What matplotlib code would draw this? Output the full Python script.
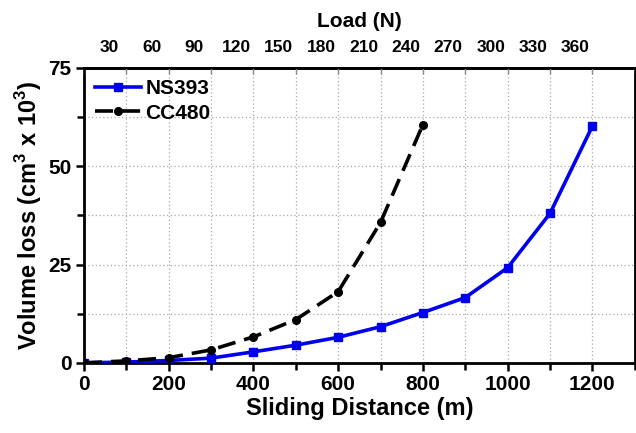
import matplotlib
matplotlib.use("Agg")
import matplotlib.pyplot as plt
from matplotlib.ticker import MultipleLocator

plt.rcParams['font.family'] = ['Liberation Sans', 'DejaVu Sans']
plt.rcParams['font.weight'] = 'bold'
plt.rcParams['mathtext.fontset'] = 'custom'
plt.rcParams['mathtext.bf'] = 'Liberation Sans:bold'

# sliding distance (m)
distance = [0, 100, 200, 300, 400, 500, 600, 700, 800, 900, 1000, 1100, 1200]
ns393 = [0, 0.2, 0.6, 1.2, 2.8, 4.5, 6.5, 9.2, 12.8, 16.6, 24.2, 38.0, 60.2]

distance_cc = [0, 100, 200, 300, 400, 500, 600, 700, 800]
cc480 = [0, 0.5, 1.3, 3.3, 6.6, 11.0, 18.1, 35.7, 60.6]

# top axis load labels (N)
loads = [30, 60, 90, 120, 150, 180, 210, 240, 270, 300, 330, 360]

fig = plt.figure(figsize=(6.36, 4.33), dpi=100)
ax = fig.add_axes([0.132, 0.162, 0.866, 0.681])

ax.plot(distance, ns393, color='#0000ee', lw=2.6, marker='s', ms=5.5,
        label='NS393', zorder=3)
ax.plot(distance_cc, cc480, color='black', lw=2.6, ls=(0, (5, 2.5)),
        marker='o', ms=5.5, label='CC480', zorder=4)

ax.set_xlim(0, 1300)
ax.set_ylim(0, 75)
ax.xaxis.set_major_locator(MultipleLocator(200))
ax.xaxis.set_minor_locator(MultipleLocator(100))
ax.yaxis.set_major_locator(MultipleLocator(25))
ax.yaxis.set_minor_locator(MultipleLocator(12.5))
ax.grid(True, which='both', color='#aaaaaa', ls=(0, (1, 2)), lw=0.9)
ax.set_axisbelow(True)

ax.tick_params(axis='both', which='both', direction='out', width=1.8,
               labelsize=15, top=False, pad=3)
ax.tick_params(which='major', length=6)
ax.tick_params(which='minor', length=5)
for s in ax.spines.values():
    s.set_linewidth(2)

ax.set_xlabel('Sliding Distance (m)', fontsize=17, fontweight='bold', labelpad=2)
ax.set_ylabel('Volume loss (cm$^{\\mathbf{3}}$ x 10$^{\\mathbf{3}}$)', fontsize=17,
              fontweight='bold', labelpad=3)

# top axis: load, labels placed along the distance scale
top = ax.secondary_xaxis('top', functions=(lambda d: (d + 40) * 0.3,
                                            lambda l: l / 0.3 - 40))
top.set_xticks(loads)
top.tick_params(length=0, labelsize=12.5, pad=9)
top.spines['top'].set_linewidth(2)
top.set_xlabel('Load (N)', fontsize=15, fontweight='bold', labelpad=10)

# inward tick marks on the top spine
ax2 = ax.twiny()
ax2.set_xlim(ax.get_xlim())
ax2.xaxis.set_major_locator(MultipleLocator(100))
ax2.tick_params(axis='x', direction='in', length=4, width=1, colors='#888888',
                labeltop=False)

leg = ax.legend(loc='upper left', frameon=False, fontsize=15, handlelength=2.2,
                borderaxespad=0.15, labelspacing=0.25, handletextpad=0.2)

fig.savefig('out.png', dpi=100)
